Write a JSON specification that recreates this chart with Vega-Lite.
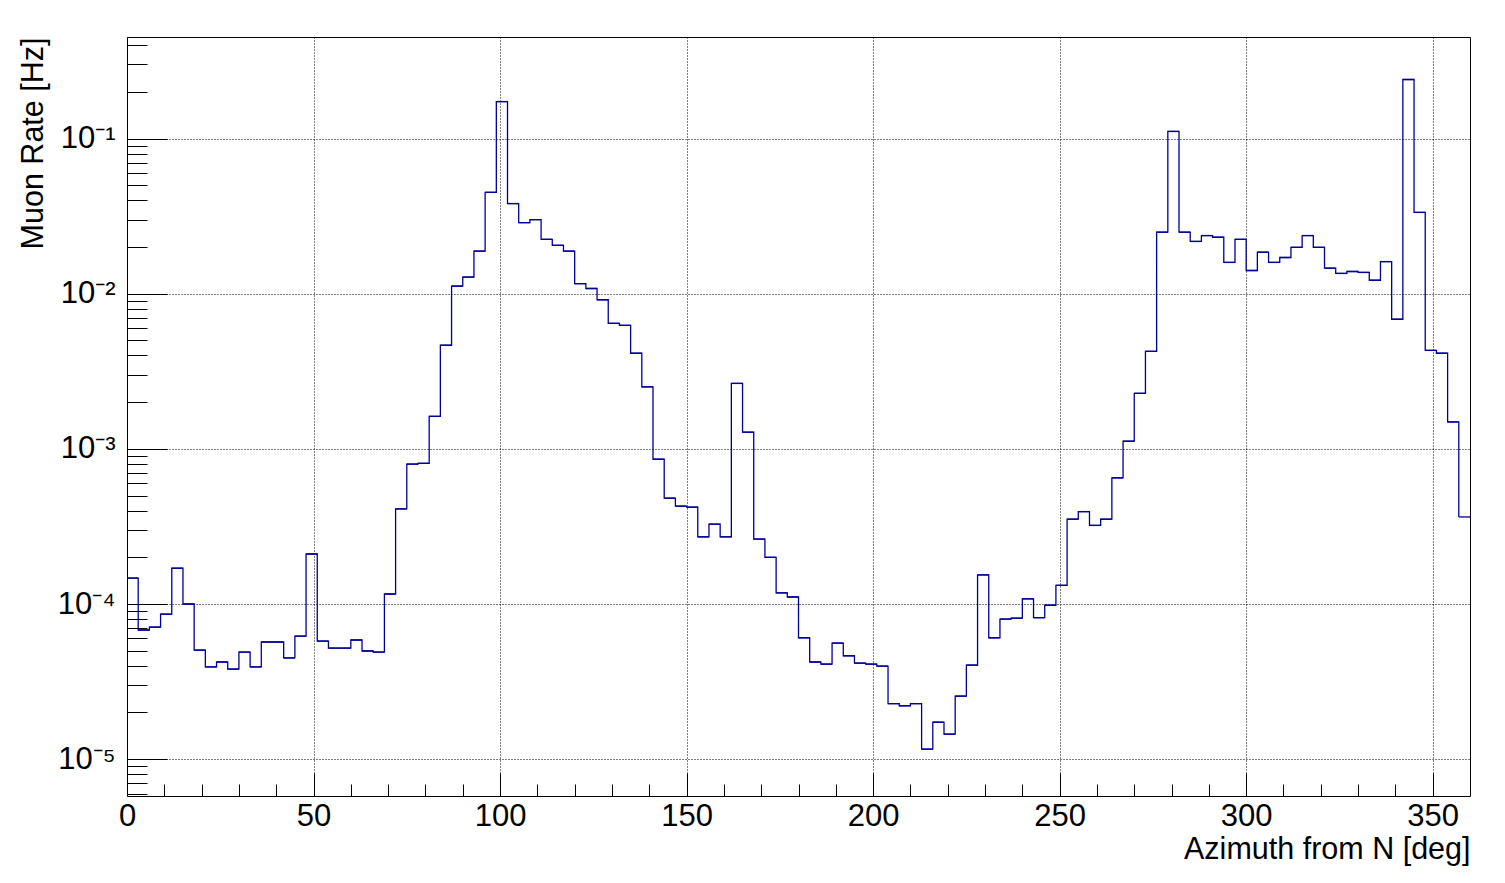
{
 "$schema": "https://vega.github.io/schema/vega-lite/v6.json",
 "width": 1343,
 "height": 759,
 "autosize": {"type": "none"},
 "padding": {"left": 127, "top": 37, "right": 35, "bottom": 87},
 "background": "white",
 "config": {
  "view": {"stroke": "black", "strokeWidth": 1},
  "axis": {"labelFont": "Liberation Sans", "titleFont": "Liberation Sans", "labelFontSize": 31, "titleFontSize": 30.5, "labelColor": "black", "titleColor": "black", "titleFontWeight": "normal", "tickColor": "black", "tickWidth": 1, "domain": false}
 },
 "data": {"values": [
  {"lo":0,"hi":3,"rate":1.47e-4},{"lo":3,"hi":6,"rate":6.8e-5},{"lo":6,"hi":9,"rate":7.1e-5},{"lo":9,"hi":12,"rate":8.6e-5},
  {"lo":12,"hi":15,"rate":1.70e-4},{"lo":15,"hi":18,"rate":1.0e-4},{"lo":18,"hi":21,"rate":5.05e-5},{"lo":21,"hi":24,"rate":3.93e-5},
  {"lo":24,"hi":27,"rate":4.23e-5},{"lo":27,"hi":30,"rate":3.81e-5},{"lo":30,"hi":33,"rate":4.90e-5},{"lo":33,"hi":36,"rate":3.93e-5},
  {"lo":36,"hi":39,"rate":5.69e-5},{"lo":39,"hi":42,"rate":5.69e-5},{"lo":42,"hi":45,"rate":4.49e-5},{"lo":45,"hi":48,"rate":6.21e-5},
  {"lo":48,"hi":51,"rate":2.10e-4},{"lo":51,"hi":54,"rate":5.77e-5},{"lo":54,"hi":57,"rate":5.2e-5},{"lo":57,"hi":60,"rate":5.2e-5},
  {"lo":60,"hi":63,"rate":5.86e-5},{"lo":63,"hi":66,"rate":4.98e-5},{"lo":66,"hi":69,"rate":4.90e-5},{"lo":69,"hi":72,"rate":1.16e-4},
  {"lo":72,"hi":75,"rate":4.10e-4},{"lo":75,"hi":78,"rate":7.98e-4},{"lo":78,"hi":81,"rate":8.07e-4},{"lo":81,"hi":84,"rate":1.62e-3},
  {"lo":84,"hi":87,"rate":4.65e-3},{"lo":87,"hi":90,"rate":1.12e-2},{"lo":90,"hi":93,"rate":1.28e-2},{"lo":93,"hi":96,"rate":1.88e-2},
  {"lo":96,"hi":99,"rate":4.50e-2},{"lo":99,"hi":102,"rate":0.173},{"lo":102,"hi":105,"rate":3.81e-2},{"lo":105,"hi":108,"rate":2.87e-2},
  {"lo":108,"hi":111,"rate":3.0e-2},{"lo":111,"hi":114,"rate":2.24e-2},{"lo":114,"hi":117,"rate":2.05e-2},{"lo":117,"hi":120,"rate":1.88e-2},
  {"lo":120,"hi":123,"rate":1.16e-2},{"lo":123,"hi":126,"rate":1.08e-2},{"lo":126,"hi":129,"rate":9.14e-3},{"lo":129,"hi":132,"rate":6.44e-3},
  {"lo":132,"hi":135,"rate":6.25e-3},{"lo":135,"hi":138,"rate":4.13e-3},{"lo":138,"hi":141,"rate":2.51e-3},{"lo":141,"hi":144,"rate":8.57e-4},
  {"lo":144,"hi":147,"rate":4.81e-4},{"lo":147,"hi":150,"rate":4.27e-4},{"lo":150,"hi":153,"rate":4.21e-4},{"lo":153,"hi":156,"rate":2.71e-4},
  {"lo":156,"hi":159,"rate":3.27e-4},{"lo":159,"hi":162,"rate":2.71e-4},{"lo":162,"hi":165,"rate":2.64e-3},{"lo":165,"hi":168,"rate":1.28e-3},
  {"lo":168,"hi":171,"rate":2.62e-4},{"lo":171,"hi":174,"rate":2.0e-4},{"lo":174,"hi":177,"rate":1.18e-4},{"lo":177,"hi":180,"rate":1.11e-4},
  {"lo":180,"hi":183,"rate":6.06e-5},{"lo":183,"hi":186,"rate":4.23e-5},{"lo":186,"hi":189,"rate":4.10e-5},{"lo":189,"hi":192,"rate":5.60e-5},
  {"lo":192,"hi":195,"rate":4.64e-5},{"lo":195,"hi":198,"rate":4.16e-5},{"lo":198,"hi":201,"rate":4.10e-5},{"lo":201,"hi":204,"rate":3.98e-5},
  {"lo":204,"hi":207,"rate":2.28e-5},{"lo":207,"hi":210,"rate":2.21e-5},{"lo":210,"hi":213,"rate":2.28e-5},{"lo":213,"hi":216,"rate":1.16e-5},
  {"lo":216,"hi":219,"rate":1.73e-5},{"lo":219,"hi":222,"rate":1.45e-5},{"lo":222,"hi":225,"rate":2.55e-5},{"lo":225,"hi":228,"rate":4.04e-5},
  {"lo":228,"hi":231,"rate":1.54e-4},{"lo":231,"hi":234,"rate":6.06e-5},{"lo":234,"hi":237,"rate":8.0e-5},{"lo":237,"hi":240,"rate":8.1e-5},
  {"lo":240,"hi":243,"rate":1.08e-4},{"lo":243,"hi":246,"rate":8.16e-5},{"lo":246,"hi":249,"rate":9.82e-5},{"lo":249,"hi":252,"rate":1.32e-4},
  {"lo":252,"hi":255,"rate":3.52e-4},{"lo":255,"hi":258,"rate":3.94e-4},{"lo":258,"hi":261,"rate":3.21e-4},{"lo":261,"hi":264,"rate":3.52e-4},
  {"lo":264,"hi":267,"rate":6.50e-4},{"lo":267,"hi":270,"rate":1.12e-3},{"lo":270,"hi":273,"rate":2.28e-3},{"lo":273,"hi":276,"rate":4.25e-3},
  {"lo":276,"hi":279,"rate":2.49e-2},{"lo":279,"hi":282,"rate":0.111},{"lo":282,"hi":285,"rate":2.49e-2},{"lo":285,"hi":288,"rate":2.17e-2},
  {"lo":288,"hi":291,"rate":2.37e-2},{"lo":291,"hi":294,"rate":2.31e-2},{"lo":294,"hi":297,"rate":1.59e-2},{"lo":297,"hi":300,"rate":2.24e-2},
  {"lo":300,"hi":303,"rate":1.41e-2},{"lo":303,"hi":306,"rate":1.85e-2},{"lo":306,"hi":309,"rate":1.59e-2},{"lo":309,"hi":312,"rate":1.71e-2},
  {"lo":312,"hi":315,"rate":1.99e-2},{"lo":315,"hi":318,"rate":2.37e-2},{"lo":318,"hi":321,"rate":1.99e-2},{"lo":321,"hi":324,"rate":1.46e-2},
  {"lo":324,"hi":327,"rate":1.35e-2},{"lo":327,"hi":330,"rate":1.39e-2},{"lo":330,"hi":333,"rate":1.37e-2},{"lo":333,"hi":336,"rate":1.22e-2},
  {"lo":336,"hi":339,"rate":1.61e-2},{"lo":339,"hi":342,"rate":6.84e-3},{"lo":342,"hi":345,"rate":0.240},{"lo":345,"hi":348,"rate":3.34e-2},
  {"lo":348,"hi":351,"rate":4.31e-3},{"lo":351,"hi":354,"rate":4.13e-3},{"lo":354,"hi":357,"rate":1.49e-3},{"lo":357,"hi":360,"rate":3.64e-4}
 ]},
 "layer": [
  {
   "mark": {"type": "rule", "color": "#000099", "strokeWidth": 1.3},
   "encoding": {
    "x": {"field": "lo", "type": "quantitative",
     "scale": {"domain": [0, 360], "nice": false, "zero": false},
     "axis": {"orient": "bottom", "values": [0, 50, 100, 150, 200, 250, 300, 350], "tickSize": -23, "grid": true, "gridDash": [1, 2], "gridColor": "black", "gridOpacity": 1, "labelPadding": 28, "labelFlush": false, "labelOverlap": false,
      "title": "Azimuth from N [deg]", "titleX": 1343, "titleY": 62, "titleAlign": "right", "titleAnchor": "end", "titleBaseline": "alphabetic"}},
    "x2": {"field": "hi"},
    "y": {"field": "rate", "type": "quantitative",
     "scale": {"type": "log", "domain": [5.79e-6, 0.451], "nice": false},
     "axis": {"orient": "left", "values": [1e-5, 1e-4, 1e-3, 1e-2, 1e-1], "tickSize": -40, "grid": true, "gridDash": [1, 2], "gridColor": "black", "gridOpacity": 1, "labelPadding": 52, "labelBaseline": "middle", "labelFlush": false, "labelOverlap": false,
      "labelExpr": "'10' + ['⁰','⁻¹','⁻²','⁻³','⁻⁴','⁻⁵','⁻⁶'][round(-log(datum.value)/LN10)]",
      "title": "Muon Rate [Hz]", "titleX": -85, "titleY": 0, "titleAngle": -90, "titleAlign": "right", "titleBaseline": "alphabetic"}}
   }
  },
  {
   "mark": {"type": "line", "interpolate": "step-after", "color": "#000099", "strokeWidth": 1.3},
   "encoding": {
    "x": {"field": "lo", "type": "quantitative",
     "axis": {"orient": "bottom", "values": [10, 20, 30, 40, 60, 70, 80, 90, 110, 120, 130, 140, 160, 170, 180, 190, 210, 220, 230, 240, 260, 270, 280, 290, 310, 320, 330, 340], "tickSize": -12, "labels": false, "grid": false, "title": null}},
    "y": {"field": "rate", "type": "quantitative",
     "axis": {"orient": "left", "values": [6e-6, 7e-6, 8e-6, 9e-6, 2e-5, 3e-5, 4e-5, 5e-5, 6e-5, 7e-5, 8e-5, 9e-5, 2e-4, 3e-4, 4e-4, 5e-4, 6e-4, 7e-4, 8e-4, 9e-4, 2e-3, 3e-3, 4e-3, 5e-3, 6e-3, 7e-3, 8e-3, 9e-3, 2e-2, 3e-2, 4e-2, 5e-2, 6e-2, 7e-2, 8e-2, 9e-2, 0.2, 0.3, 0.4], "tickSize": -20, "labels": false, "grid": false, "title": null}}
   }
  }
 ],
 "resolve": {"axis": {"x": "independent", "y": "independent"}}
}
